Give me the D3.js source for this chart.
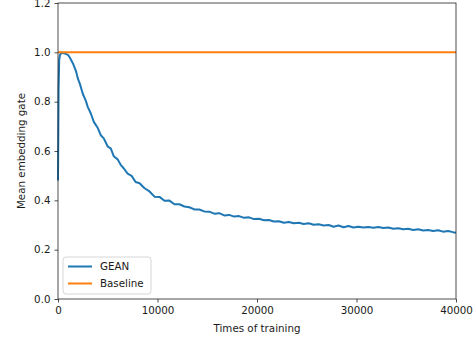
<!DOCTYPE html>
<html>
<head>
<meta charset="utf-8">
<script src="https://cdn.jsdelivr.net/npm/d3@7"></script>
<style>
  body { margin: 0; background: #fff; }
  svg { font-family: "DejaVu Sans", sans-serif; }
</style>
</head>
<body>
<div id="chart"></div>
<script>
// steps of training and the mean gate value
var steps = [0, 60, 120, 200, 400, 700, 1000, 1200, 1500, 1800, 2000, 2200, 2500,
    2800, 3000, 3300, 3600, 4000, 4300, 4600, 5000, 5300, 5600, 6000, 6300, 6600,
    7000, 7400, 7800, 8200, 8700, 9200, 9700, 10200, 10700, 11200, 11700, 12200,
    12700, 13200, 13700, 14200, 14700, 15200, 15700, 16200, 16700, 17200, 17700,
    18200, 18700, 19200, 19700, 20200, 20700, 21200, 21700, 22200, 22700, 23200,
    23700, 24200, 24700, 25200, 25700, 26200, 26700, 27200, 27700, 28200, 28700,
    29200, 29700, 30200, 30700, 31200, 31700, 32200, 32700, 33200, 33700, 34200,
    34700, 35200, 35700, 36200, 36700, 37200, 37700, 38200, 38700, 39200, 39700, 40000];
var gean = [0.48, 0.85, 0.97, 0.99, 0.998, 0.995, 0.99, 0.978, 0.955, 0.925, 0.893, 0.872,
    0.831, 0.803, 0.778, 0.752, 0.718, 0.693, 0.664, 0.651, 0.618, 0.611, 0.579, 0.566,
    0.544, 0.53, 0.508, 0.499, 0.474, 0.469, 0.449, 0.436, 0.415, 0.414, 0.398, 0.399,
    0.384, 0.384, 0.375, 0.372, 0.363, 0.363, 0.355, 0.354, 0.346, 0.348, 0.339, 0.341,
    0.334, 0.336, 0.329, 0.331, 0.324, 0.325, 0.319, 0.32, 0.314, 0.315, 0.309, 0.312,
    0.307, 0.309, 0.304, 0.307, 0.301, 0.303, 0.298, 0.3, 0.293, 0.298, 0.291, 0.296,
    0.29, 0.293, 0.29, 0.292, 0.289, 0.292, 0.288, 0.29, 0.285, 0.287, 0.283, 0.285,
    0.28, 0.283, 0.278, 0.28, 0.276, 0.279, 0.273, 0.276, 0.271, 0.269];
var baseline = [1.0, 1.0];
var baselineSteps = [0, 40000];
var xTicks = [0, 10000, 20000, 30000, 40000];
var yTicks = [0.0, 0.2, 0.4, 0.6, 0.8, 1.0, 1.2];

var width = 476, height = 340,
    margin = {top: 3, right: 20, bottom: 41, left: 58};

var svg = d3.select("#chart").append("svg")
    .attr("width", width)
    .attr("height", height);

var x = d3.scaleLinear().domain([0, 40000]).range([margin.left, width - margin.right]),
    y = d3.scaleLinear().domain([0, 1.2]).range([height - margin.bottom, margin.top]);

function line(xs, ys) {
    return d3.line()
        .x(function (d, i) { return x(xs[i]); })
        .y(function (d) { return y(d); })(ys);
}

svg.append("path")
    .attr("d", line(steps, gean))
    .style("fill", "none")
    .style("stroke", "#1f77b4")
    .style("stroke-width", "2px")
    .style("stroke-linejoin", "round");

svg.append("path")
    .attr("d", line(baselineSteps, baseline))
    .style("fill", "none")
    .style("stroke", "#ff7f0e")
    .style("stroke-width", "2px");

// axes
var xAxis = svg.append("g")
    .attr("transform", "translate(0," + y(0) + ")")
    .call(d3.axisBottom(x).tickValues(xTicks).tickSize(3.5).tickPadding(4)
        .tickFormat(d3.format("d")));
var yAxis = svg.append("g")
    .attr("transform", "translate(" + x(0) + ",0)")
    .call(d3.axisLeft(y).tickValues(yTicks).tickSize(3.5).tickPadding(4)
        .tickFormat(d3.format(".1f")));

[xAxis, yAxis].forEach(function (g) {
    g.selectAll("text").style("font-size", "10.3px").style("fill", "#1a1a1a")
        .style("font-family", "DejaVu Sans");
    g.selectAll("line").style("stroke", "#222").style("stroke-width", "0.8px");
    g.select(".domain").remove();
});

// spines
svg.append("rect")
    .attr("x", x(0)).attr("y", y(1.2))
    .attr("width", x(40000) - x(0)).attr("height", y(0) - y(1.2))
    .style("fill", "none")
    .style("stroke", "#222")
    .style("stroke-width", "0.8px");

svg.append("text")
    .attr("x", (x(0) + x(40000)) / 2)
    .attr("y", 332)
    .attr("text-anchor", "middle")
    .style("font-size", "10.3px")
    .style("fill", "#1a1a1a")
    .text("Times of training");

svg.append("text")
    .attr("transform", "translate(25," + y(0.6) + ") rotate(-90)")
    .attr("text-anchor", "middle")
    .style("font-size", "10.3px")
    .style("fill", "#1a1a1a")
    .text("Mean embedding gate");

// legend
var legendItems = [{name: "GEAN", color: "#1f77b4"}, {name: "Baseline", color: "#ff7f0e"}];
var legend = svg.append("g").attr("transform", "translate(63,257)");
legend.append("rect")
    .attr("width", 88).attr("height", 37)
    .attr("rx", 3)
    .style("fill", "#fff").style("fill-opacity", 0.8)
    .style("stroke", "#ccc").style("stroke-width", "0.8px");
var item = legend.selectAll("g.item")
    .data(legendItems)
    .enter()
    .append("g")
    .attr("transform", function (d, i) { return "translate(0," + (9.5 + i * 17) + ")"; });
item.append("line")
    .attr("x1", 5).attr("x2", 29)
    .style("stroke", function (d) { return d.color; })
    .style("stroke-width", "2px");
item.append("text")
    .attr("x", 37).attr("dy", "0.35em")
    .style("font-size", "10.3px")
    .style("fill", "#1a1a1a")
    .text(function (d) { return d.name; });
</script>
</body>
</html>
